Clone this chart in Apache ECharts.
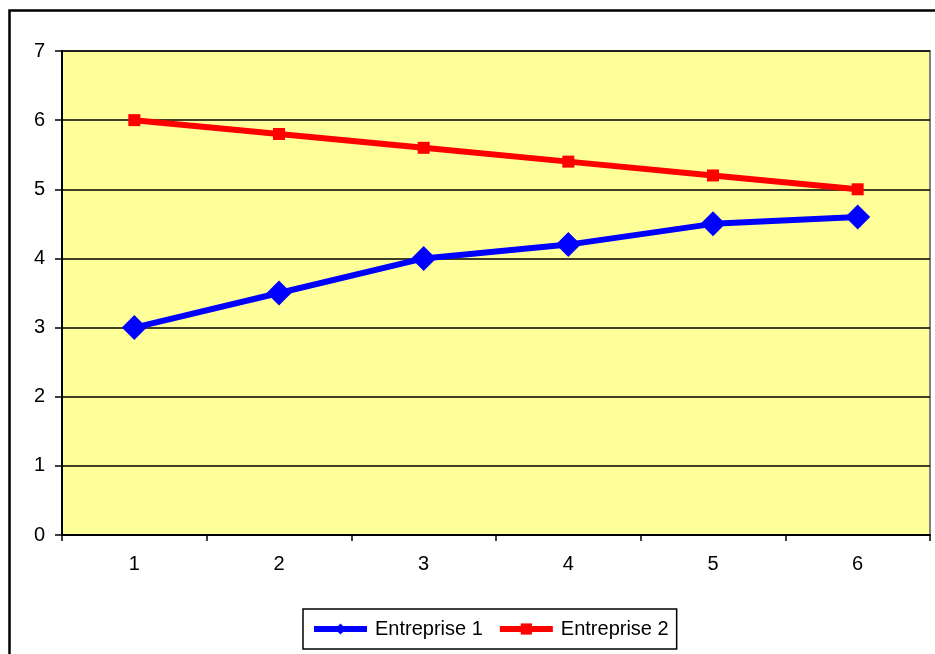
<!DOCTYPE html>
<html>
<head>
<meta charset="utf-8">
<script src="https://cdn.jsdelivr.net/npm/echarts@6/dist/echarts.min.js"></script>
<style>
  html, body { margin: 0; padding: 0; background: #fff; }
  #chart { width: 935px; height: 654px; }
</style>
</head>
<body>
<div id="chart"></div>
<script>
// Categories along the horizontal axis
const categories = ['1', '2', '3', '4', '5', '6'];
// Values for each company
const entreprise1 = [3, 3.5, 4, 4.2, 4.5, 4.6];
const entreprise2 = [6, 5.8, 5.6, 5.4, 5.2, 5.0];
// Vertical axis range
const yMin = 0;
const yMax = 7;
const yStep = 1;

const font = 'Arial, "Liberation Sans", sans-serif';

const chart = echarts.init(document.getElementById('chart'), null, { renderer: 'canvas' });

chart.setOption({
  backgroundColor: '#ffffff',
  animation: false,
  graphic: [
    {
      type: 'rect',
      shape: { x: 9.5, y: 10.5, width: 940, height: 660 },
      style: { fill: 'none', stroke: '#000', lineWidth: 2.5 },
      z: 0
    }
  ],
  grid: {
    left: 62,
    top: 51,
    right: 5,
    bottom: 119,
    show: true,
    backgroundColor: '#FFFF99',
    borderColor: '#808080',
    borderWidth: 2
  },
  legend: {
    left: 303,
    top: 609,
    orient: 'horizontal',
    padding: [10, 8, 10, 8],
    itemGap: 14,
    itemWidth: 53,
    itemHeight: 14,
    borderColor: '#000',
    borderWidth: 1.5,
    backgroundColor: '#fff',
    textStyle: { fontFamily: font, fontSize: 20, color: '#000', padding: [0, 0, 0, 3] },
    lineStyle: { width: 6 },
    data: ['Entreprise 1', 'Entreprise 2']
  },
  xAxis: {
    type: 'category',
    data: categories,
    boundaryGap: true,
    axisLine: { show: true, lineStyle: { color: '#000', width: 2 } },
    axisTick: { show: true, inside: false, length: 6, lineStyle: { color: '#000', width: 1.5 } },
    axisLabel: { fontFamily: font, fontSize: 20, color: '#000', margin: 19 },
    splitLine: { show: false }
  },
  yAxis: {
    type: 'value',
    min: yMin,
    max: yMax,
    interval: yStep,
    axisLine: { show: true, lineStyle: { color: '#000', width: 2 } },
    axisTick: { show: true, inside: false, length: 7, lineStyle: { color: '#000', width: 1.5 } },
    axisLabel: { fontFamily: font, fontSize: 20, color: '#000', margin: 17 },
    splitLine: { show: true, lineStyle: { color: '#000', width: 1.5 } }
  },
  series: [
    {
      name: 'Entreprise 1',
      type: 'line',
      data: entreprise1,
      symbol: 'diamond',
      symbolSize: 25,
      showAllSymbol: true,
      lineStyle: { color: '#0000FF', width: 6 },
      itemStyle: { color: '#0000FF' },
      z: 3
    },
    {
      name: 'Entreprise 2',
      type: 'line',
      data: entreprise2,
      symbol: 'rect',
      symbolSize: 12,
      showAllSymbol: true,
      lineStyle: { color: '#FF0000', width: 6 },
      itemStyle: { color: '#FF0000' },
      z: 3
    }
  ]
});
</script>
</body>
</html>
